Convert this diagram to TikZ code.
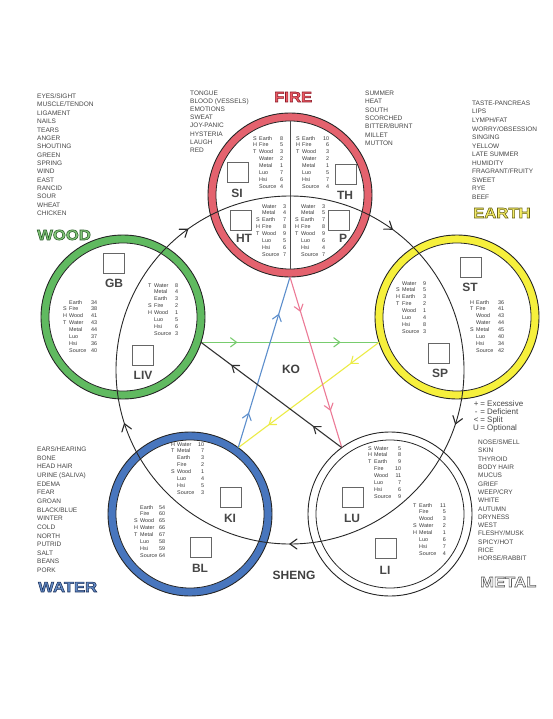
\documentclass[tikz,border=0pt]{standalone}
\usepackage{fontspec}
\setmainfont{Liberation Sans}
\newfontfamily\widefont[FakeStretch=1.15]{Liberation Sans}
\usepackage{array}
\usetikzlibrary{arrows.meta,decorations.markings}

\definecolor{firering}{RGB}{228,98,110}
\definecolor{woodring}{RGB}{96,186,96}
\definecolor{earthring}{RGB}{246,240,60}
\definecolor{waterring}{RGB}{72,118,190}
\definecolor{kogreen}{RGB}{120,204,110}
\definecolor{koyellow}{RGB}{236,236,70}
\definecolor{koblue}{RGB}{92,142,204}
\definecolor{kopink}{RGB}{236,122,150}
\definecolor{koblack}{RGB}{50,50,50}
\definecolor{shengblack}{RGB}{40,40,40}
\definecolor{txtgray}{RGB}{70,70,70}
\definecolor{woodfill}{RGB}{130,198,120}
\definecolor{firefill}{RGB}{236,90,100}
\definecolor{earthfill}{RGB}{244,236,100}
\definecolor{waterfill}{RGB}{100,140,198}
\definecolor{metalfill}{RGB}{255,255,255}

% outlined text: fill with current colour, stroke with given RGB (0..1)
\newcommand{\outl}[2]{\special{pdf:literal direct 2 Tr 0.55 w #1 RG}#2\special{pdf:literal direct 0 Tr}}

\newcommand{\ptab}[2][21pt]{\begin{tabular}{@{}w{l}{6pt}@{}w{l}{#1}@{}r@{}}#2\end{tabular}}

\begin{document}
\begin{tikzpicture}[x=1pt,y=-1pt,
  ring/.style={circle, draw=black!85, line width=0.9pt, minimum size=164pt, inner sep=0pt, outer sep=0pt},
  inring/.style={circle, draw=black!85, line width=0.8pt, fill=white, minimum size=148pt, inner sep=0pt, outer sep=0pt},
  organbox/.style={draw=black!60, line width=0.6pt, minimum width=21pt, minimum height=20pt, inner sep=0pt},
  organlbl/.style={font=\bfseries\fontsize{12}{12}\selectfont, text=black!72, inner sep=0pt},
  ptable/.style={anchor=north west, inner sep=0pt, font=\fontsize{5.4}{6.9}\selectfont, text=black!78},
  listtxt/.style={anchor=north west, inner sep=0pt, align=left, text=txtgray},
  elnm/.style={anchor=west, inner sep=0pt, font=\widefont\bfseries\fontsize{14.5}{14.5}\selectfont},
  chev/.style={draw=#1, line width=1.1pt, line join=miter, line cap=round},
  kolin/.style={draw=#1, line width=1.1pt, postaction={decorate},
    decoration={markings,
      mark=at position 0.2 with {\draw[chev=#1] (-6pt,-4.5pt) -- (0pt,0pt) -- (-6pt,4.5pt);},
      mark=at position 0.78 with {\draw[chev=#1] (-6pt,-4.5pt) -- (0pt,0pt) -- (-6pt,4.5pt);}}},
  shengline/.style={draw=shengblack, line width=0.9pt, postaction={decorate},
    decoration={markings,
      mark=at position 0.05 with {\draw[chev=shengblack] (-7pt,-5pt) -- (0pt,0pt) -- (-7pt,5pt);},
      mark=at position 0.25 with {\draw[chev=shengblack] (-7pt,-5pt) -- (0pt,0pt) -- (-7pt,5pt);},
      mark=at position 0.45 with {\draw[chev=shengblack] (-7pt,-5pt) -- (0pt,0pt) -- (-7pt,5pt);},
      mark=at position 0.65 with {\draw[chev=shengblack] (-7pt,-5pt) -- (0pt,0pt) -- (-7pt,5pt);},
      mark=at position 0.85 with {\draw[chev=shengblack] (-7pt,-5pt) -- (0pt,0pt) -- (-7pt,5pt);}}}
]
\fill[white] (0,0) rectangle (553,719);
\useasboundingbox (0,0) rectangle (553,719);

% element rings
\node[ring, fill=firering] (fireO) at (290,195) {};
\node[inring] (fireI) at (290,195) {};
\node[ring, fill=earthring] (earthO) at (457,317) {};
\node[inring] (earthI) at (457,317) {};
\node[ring, fill=white] (metalO) at (390,514) {};
\node[inring] (metalI) at (390,514) {};
\node[ring, fill=waterring] (waterO) at (190,514) {};
\node[inring] (waterI) at (190,514) {};
\node[ring, fill=woodring] (woodO) at (123,317) {};
\node[inring] (woodI) at (123,317) {};

% fire divider
\draw[black!70, line width=0.7pt] (fireI.north) -- (fireI.south);

% sheng cycle
\coordinate (sc) at (290,370);
\path[shengline] (sc) circle (174);

% ko cycle
\draw[kolin=kogreen] (woodO.-18) -- (earthO.198);
\draw[kolin=koyellow] (earthO.198) -- (waterO.54);
\draw[kolin=koblue] (waterO.54) -- (fireO.-90);
\draw[kolin=kopink] (fireO.-90) -- (metalO.126);
\draw[kolin=koblack] (metalO.126) -- (woodO.-18);

% organ boxes and labels
\node[organbox] (bSI) at (237.5,172) {};
\node[organlbl] (lSI) at (237,193) {SI};
\node[organbox] (bTH) at (346,174) {};
\node[organlbl] (lTH) at (345,195) {TH};
\node[organbox] (bHT) at (241,220) {};
\node[organlbl] (lHT) at (244,238) {HT};
\node[organbox] (bP) at (339,220) {};
\node[organlbl] (lP) at (343,238) {P};
\node[organbox] (bGB) at (114,263) {};
\node[organlbl] (lGB) at (114,283) {GB};
\node[organbox] (bLIV) at (142.5,355) {};
\node[organlbl] (lLIV) at (143,375) {LIV};
\node[organbox] (bST) at (471,267.5) {};
\node[organlbl] (lST) at (470,287) {ST};
\node[organbox] (bSP) at (439,353) {};
\node[organlbl] (lSP) at (440,373) {SP};
\node[organbox] (bKI) at (231,497) {};
\node[organlbl] (lKI) at (230,518) {KI};
\node[organbox] (bBL) at (201,547.5) {};
\node[organlbl] (lBL) at (200,568) {BL};
\node[organbox] (bLU) at (352.5,497) {};
\node[organlbl] (lLU) at (352,518) {LU};
\node[organbox] (bLI) at (386,548) {};
\node[organlbl] (lLI) at (385,570) {LI};

% point tables
\node[ptable] (tSI) at (253,135) {\ptab{S&Earth&8\\H&Fire&5\\T&Wood&3\\&Water&2\\&Metal&1\\&Luo&7\\&Hsi&6\\&Source&4}};
\node[ptable] (tTH) at (296,135) {\ptab{S&Earth&10\\H&Fire&6\\T&Wood&3\\&Water&2\\&Metal&1\\&Luo&5\\&Hsi&7\\&Source&4}};
\node[ptable] (tHT) at (256,203) {\ptab{&Water&3\\&Metal&4\\S&Earth&7\\H&Fire&8\\T&Wood&9\\&Luo&5\\&Hsi&6\\&Source&7}};
\node[ptable] (tP) at (295,203) {\ptab{&Water&3\\&Metal&5\\S&Earth&7\\H&Fire&8\\T&Wood&9\\&Luo&6\\&Hsi&4\\&Source&7}};
\node[ptable] (tGB) at (63,299) {\ptab[22pt]{&Earth&34\\S&Fire&38\\H&Wood&41\\T&Water&43\\&Metal&44\\&Luo&37\\&Hsi&36\\&Source&40}};
\node[ptable] (tLIV) at (148,282) {\ptab{T&Water&8\\&Metal&4\\&Earth&3\\S&Fire&2\\H&Wood&1\\&Luo&5\\&Hsi&6\\&Source&3}};
\node[ptable] (tSP) at (396,280) {\ptab{&Water&9\\S&Metal&5\\H&Earth&3\\T&Fire&2\\&Wood&1\\&Luo&4\\&Hsi&8\\&Source&3}};
\node[ptable] (tST) at (470,299) {\ptab[22pt]{H&Earth&36\\T&Fire&41\\&Wood&43\\&Water&44\\S&Metal&45\\&Luo&40\\&Hsi&34\\&Source&42}};
\node[ptable] (tKI) at (171,441) {\ptab{H&Water&10\\T&Metal&7\\&Earth&3\\&Fire&2\\S&Wood&1\\&Luo&4\\&Hsi&5\\&Source&3}};
\node[ptable] (tBL) at (134,504) {\ptab[19pt]{&Earth&54\\&Fire&60\\S&Wood&65\\H&Water&66\\T&Metal&67\\&Luo&58\\&Hsi&59\\&Source&64}};
\node[ptable] (tLU) at (368,445) {\ptab{S&Water&5\\H&Metal&8\\T&Earth&9\\&Fire&10\\&Wood&11\\&Luo&7\\&Hsi&6\\&Source&9}};
\node[ptable] (tLI) at (413,502) {\ptab{T&Earth&11\\&Fire&5\\&Wood&3\\S&Water&2\\H&Metal&1\\&Luo&6\\&Hsi&7\\&Source&4}};

% correspondence lists
\node[listtxt, font=\fontsize{6.5}{8.36}\selectfont] (listWood) at (37,93.7) {EYES/SIGHT\\MUSCLE/TENDON\\LIGAMENT\\NAILS\\TEARS\\ANGER\\SHOUTING\\GREEN\\SPRING\\WIND\\EAST\\RANCID\\SOUR\\WHEAT\\CHICKEN};
\node[listtxt, font=\fontsize{6.5}{8.14}\selectfont] (listFire) at (190,90.7) {TONGUE\\BLOOD (VESSELS)\\EMOTIONS\\SWEAT\\JOY-PANIC\\HYSTERIA\\LAUGH\\RED};
\node[listtxt, font=\fontsize{6.5}{8.33}\selectfont] (listSummer) at (365,90.7) {SUMMER\\HEAT\\SOUTH\\SCORCHED\\BITTER/BURNT\\MILLET\\MUTTON};
\node[listtxt, font=\fontsize{6.5}{8.55}\selectfont] (listEarth) at (472,100.7) {TASTE-PANCREAS\\LIPS\\LYMPH/FAT\\WORRY/OBSESSION\\SINGING\\YELLOW\\LATE SUMMER\\HUMIDITY\\FRAGRANT/FRUITY\\SWEET\\RYE\\BEEF};
\node[listtxt, font=\fontsize{6.5}{8.64}\selectfont] (listWater) at (37,446.7) {EARS/HEARING\\BONE\\HEAD HAIR\\URINE (SALIVA)\\EDEMA\\FEAR\\GROAN\\BLACK/BLUE\\WINTER\\COLD\\NORTH\\PUTRID\\SALT\\BEANS\\PORK};
\node[listtxt, font=\fontsize{6.5}{8.3}\selectfont] (listMetal) at (478,439.7) {NOSE/SMELL\\SKIN\\THYROID\\BODY HAIR\\MUCUS\\GRIEF\\WEEP/CRY\\WHITE\\AUTUMN\\DRYNESS\\WEST\\FLESHY/MUSK\\SPICY/HOT\\RICE\\HORSE/RABBIT};

% legend
\node[anchor=north west, inner sep=0pt, text=txtgray, font=\fontsize{8}{7.8}\selectfont] (legend) at (473,400)
  {\begin{tabular}{@{}c@{\,}l@{}}+&= Excessive\\-&= Deficient\\<&= Split\\U&= Optional\end{tabular}};

% element names
\node[elnm, text=woodfill] (nWood) at (37,235) {\outl{0.15 0.35 0.15}{WOOD}};
\node[elnm, text=firefill] (nFire) at (274,97) {\outl{0.55 0.1 0.15}{FIRE}};
\node[elnm, text=earthfill] (nEarth) at (473,213) {\outl{0.4 0.38 0.08}{EARTH}};
\node[elnm, text=waterfill] (nWater) at (38,587) {\outl{0.1 0.18 0.35}{WATER}};
\node[elnm, text=metalfill] (nMetal) at (480,582) {\outl{0.35 0.35 0.35}{METAL}};

% cycle names
\node[font=\bfseries\fontsize{12}{12}\selectfont, text=black!75, inner sep=0pt] (ko) at (291,369) {KO};
\node[font=\bfseries\fontsize{12}{12}\selectfont, text=black!75, inner sep=0pt] (sheng) at (294,575) {SHENG};
\end{tikzpicture}
\end{document}
